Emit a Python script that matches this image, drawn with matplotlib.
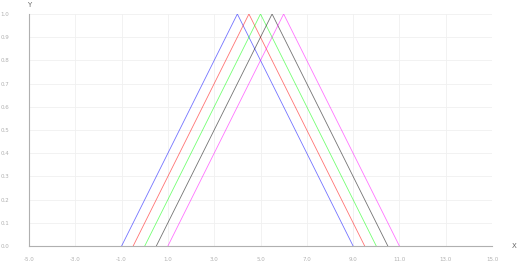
import matplotlib
matplotlib.use("Agg")
import matplotlib.pyplot as plt
import numpy as np

series_colors = ["blue", "red", "lime", "black", "magenta"]
starts = [-1.0, -0.5, 0.0, 0.5, 1.0]
peaks = [4.0, 4.5, 5.0, 5.5, 6.0]
ends = [9.0, 9.5, 10.0, 10.5, 11.0]
peak_values = [1.0, 1.0, 1.0, 1.0, 1.0]
x_ticks = [-5, -3, -1, 1, 3, 5, 7, 9, 11, 13, 15]
y_ticks = [0.0, 0.1, 0.2, 0.3, 0.4, 0.5, 0.6, 0.7, 0.8, 0.9, 1.0]

fig = plt.figure(figsize=(5.2, 2.72), dpi=100)
ax = fig.add_axes([29/520, 26/272, 463/520, 232/272])

for c, s, p, e, v in zip(series_colors, starts, peaks, ends, peak_values):
    ax.plot([s, p, e], [0, v, 0], color=c, lw=0.6, alpha=0.55, zorder=3)

ax.set_xlim(-5, 15)
ax.set_ylim(0, 1.0)
ax.set_xticks(x_ticks)
ax.set_yticks(y_ticks)
ax.set_xticklabels([f"{t:.1f}" for t in x_ticks])
ax.set_yticklabels([f"{t:.1f}" for t in y_ticks])
ax.tick_params(axis="both", length=0, labelsize=4, colors="#b0b0b0")
ax.tick_params(axis="x", pad=8)
ax.tick_params(axis="y", pad=14)
ax.grid(True, color="#f0f0f0", lw=0.6, zorder=0)
for side in ["top", "right"]:
    ax.spines[side].set_visible(False)
for side in ["left", "bottom"]:
    ax.spines[side].set_color("#b0b0b0")
    ax.spines[side].set_linewidth(0.8)

fig.text(29/520, 1 - 5/272, "Y", fontsize=5, color="#666666", ha="center", va="center")
fig.text(514/520, 1 - 246/272, "X", fontsize=5, color="#666666", ha="center", va="center")

fig.savefig("out.png", dpi=100)
